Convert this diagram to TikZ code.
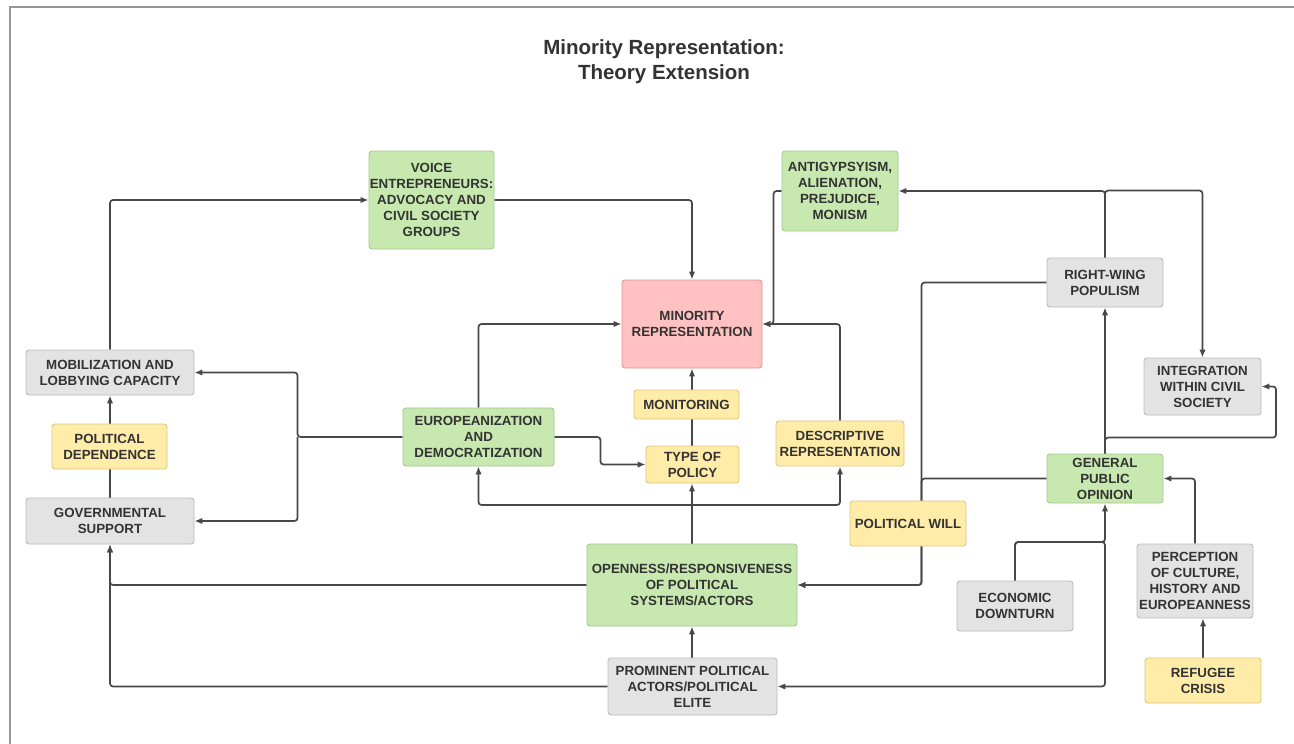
\documentclass[tikz,border=0pt]{standalone}
\usepackage{fontspec}
\setmainfont{Liberation Sans}
\usetikzlibrary{arrows.meta,backgrounds}
\definecolor{txtc}{RGB}{51,51,51}
\definecolor{linec}{RGB}{72,72,72}
\definecolor{frmc}{RGB}{150,150,150}
\definecolor{grnf}{RGB}{199,232,175}
\definecolor{grnd}{RGB}{165,200,145}
\definecolor{pnkf}{RGB}{255,193,194}
\definecolor{pnkd}{RGB}{222,150,155}
\definecolor{ylwf}{RGB}{255,236,168}
\definecolor{ylwd}{RGB}{222,198,125}
\definecolor{gryf}{RGB}{227,227,227}
\definecolor{gryd}{RGB}{188,188,188}
\tikzset{
  box/.style={rounded corners=3pt, line width=0.9pt, inner sep=0pt, align=center,
    text=txtc, font=\bfseries\fontsize{13.3}{16}\selectfont},
  gbox/.style={box, fill=grnf, draw=grnd},
  pbox/.style={box, fill=pnkf, draw=pnkd},
  ybox/.style={box, fill=ylwf, draw=ylwd},
  wbox/.style={box, fill=gryf, draw=gryd},
  sz/.style 2 args={minimum width=#1pt, minimum height=#2pt},
  conn/.style={draw=linec, line width=1.7pt, rounded corners=3pt,
    -{Latex[length=8pt,width=6.5pt]}}
}
\begin{document}
\begin{tikzpicture}[x=1pt,y=-1pt]
\useasboundingbox (0,0) rectangle (1294,744);

\node[text=txtc, font=\bfseries\fontsize{20.5}{25}\selectfont, align=center] (title) at (664,61.5)
  {Minority Representation:\\Theory Extension};

\node[gbox, sz={125}{98}] (voice) at (431.5,200) {VOICE\\ENTREPRENEURS:\\ADVOCACY AND\\CIVIL SOCIETY\\GROUPS};
\node[gbox, sz={116}{80}] (anti) at (840,191) {ANTIGYPSYISM,\\ALIENATION,\\PREJUDICE,\\MONISM};
\node[pbox, sz={140}{88}] (minority) at (692,324) {MINORITY\\REPRESENTATION};
\node[wbox, sz={116}{49}] (rwp) at (1105,282.5) {RIGHT-WING\\POPULISM};
\node[wbox, sz={168}{45}] (mob) at (110,372.5) {MOBILIZATION AND\\LOBBYING CAPACITY};
\node[wbox, sz={117}{57}] (integ) at (1202.5,386.5) {INTEGRATION\\WITHIN CIVIL\\SOCIETY};
\node[ybox, sz={105}{29}] (monit) at (686.5,404.5) {MONITORING};
\node[ybox, sz={115}{45}] (poldep) at (109.5,446.5) {POLITICAL\\DEPENDENCE};
\node[gbox, sz={151}{58}] (europ) at (478.5,437) {EUROPEANIZATION\\AND\\DEMOCRATIZATION};
\node[ybox, sz={128}{45}] (descr) at (840,443.5) {DESCRIPTIVE\\REPRESENTATION};
\node[ybox, sz={93}{37}] (typepol) at (692.5,464.5) {TYPE OF\\POLICY};
\node[gbox, sz={116}{49}] (gpo) at (1105,478.5) {GENERAL\\PUBLIC\\OPINION};
\node[wbox, sz={168}{46}] (govsup) at (110,521) {GOVERNMENTAL\\SUPPORT};
\node[ybox, sz={116}{45}] (polwill) at (908,523.5) {POLITICAL WILL};
\node[gbox, sz={210}{82}] (open) at (692,585) {OPENNESS/RESPONSIVENESS\\OF POLITICAL\\SYSTEMS/ACTORS};
\node[wbox, sz={116}{74}] (percep) at (1195,581) {PERCEPTION\\OF CULTURE,\\HISTORY AND\\EUROPEANNESS};
\node[wbox, sz={116}{50}] (econ) at (1015,606) {ECONOMIC\\DOWNTURN};
\node[wbox, sz={169}{57}] (prom) at (692.5,686.5) {PROMINENT POLITICAL\\ACTORS/POLITICAL\\ELITE};
\node[ybox, sz={116}{45}] (refugee) at (1203,680.5) {REFUGEE\\CRISIS};

\coordinate (jo) at (692,505);
\coordinate (je) at (1105,542);

\begin{scope}[on background layer]
\fill[white] (0,0) rectangle (1294,744);
\draw[frmc, line width=1.5pt] (10,744) -- (10,7) -- (1294,7);

\draw[conn] (mob.north) |- (voice.west);
\draw[conn] (voice.east) -| (minority.north);
\draw[conn] (anti.west) -- ++(-8,0) |- (minority.east);
\draw[conn] (descr.north) |- (minority.east);
\draw[conn] (typepol.north -| minority.south) -- (minority.south);
\draw[conn] (open.north) -- (open.north |- typepol.south);
\draw[conn] (europ.north) |- (minority.west);
\draw[conn] (europ.east) -- ++(46,0) |- (typepol.west);
\draw[conn] (europ.west) -- ++(-105,0) coordinate (jl) |- (mob.east);
\draw[conn] (jl) |- (govsup.east);
\draw[conn] (jo) -| (europ.south);
\draw[conn] (jo) -| (descr.south);
\draw[conn] (govsup.north) -- (mob.south);
\draw[conn] (open.west) -| (govsup.south);
\draw[conn] (prom.west) -| (govsup.south);
\draw[conn] (prom.north -| open.south) -- (open.south);
\draw[conn] (econ.north) |- (je) -- (gpo.south);
\draw[conn] (econ.north) |- (je) |- (prom.east);
\draw[conn] (rwp.west) -- ++(-125,0) |- (open.east);
\draw[conn] (gpo.west) -- ++(-125,0) |- (open.east);
\draw[conn] (gpo.north) -- (rwp.south);
\draw[conn] (gpo.north) -- ++(0,-16) -- ++(171,0) |- (integ.east);
\draw[conn] (rwp.north) |- (anti.east);
\draw[conn] (rwp.north) -- ++(0,-67) -| (integ.north);
\draw[conn] (percep.north) |- (gpo.east);
\draw[conn] (refugee.north) -- (refugee.north |- percep.south);
\end{scope}
\end{tikzpicture}
\end{document}
